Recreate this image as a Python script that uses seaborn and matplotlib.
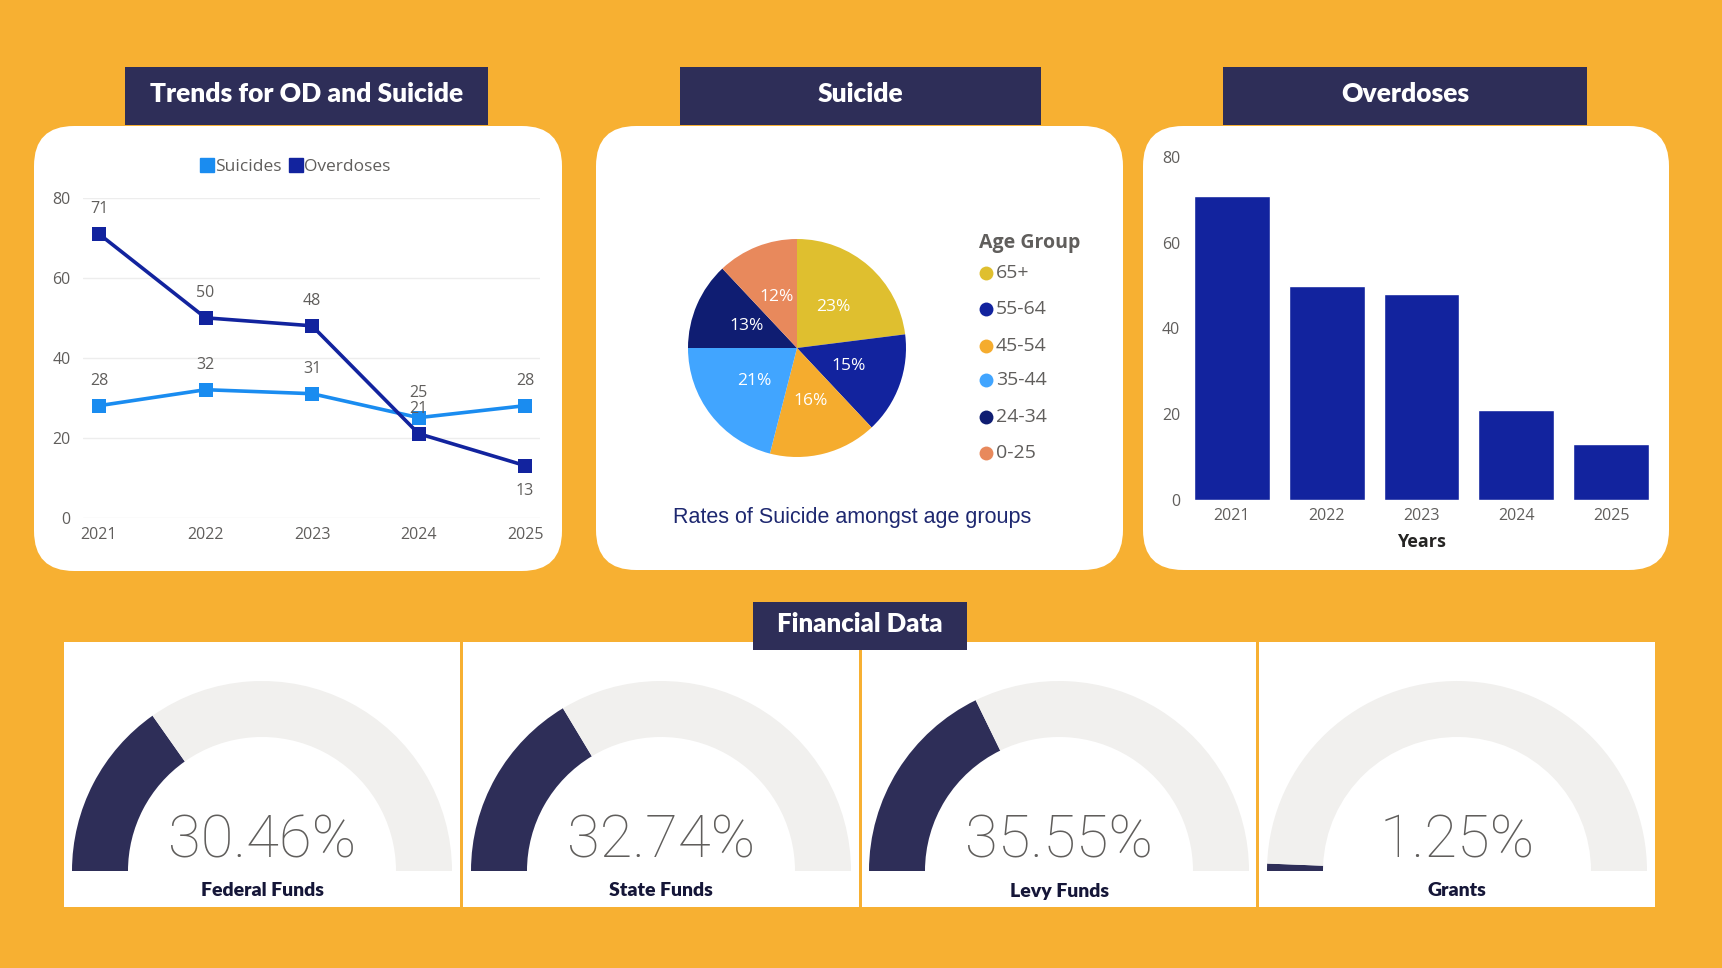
import matplotlib.pyplot as plt
import matplotlib.patches as mpatches
from matplotlib.lines import Line2D
import seaborn as sns
import pandas as pd

# ---- data ----
years = [2021, 2022, 2023, 2024, 2025]
suicides = [28, 32, 31, 25, 28]
overdoses = [71, 50, 48, 21, 13]

age_groups = ['65+', '55-64', '45-54', '35-44', '24-34', '0-25']
age_share = [23, 15, 16, 21, 13, 12]
age_colors = ['#DFBF2F', '#12239E', '#F5AC2E', '#41A5FF', '#0F1D72', '#E8895C']

fund_names = ['Federal Funds', 'State Funds', 'Levy Funds', 'Grants']
fund_pct = [30.46, 32.74, 35.55, 1.25]

# ---- styles ----
ORANGE = '#F7B032'
NAVY_BOX = '#2E2E58'
LIGHT_BLUE = '#1A8CF0'
DARK_BLUE = '#12239E'
GAUGE_BG = '#F1F0EE'
GRAY_TXT = '#605E5C'
TITLE_FONT = ['Lato', 'DejaVu Sans']

W, H = 1722, 968

sns.set_theme(style='white')
plt.rcParams['font.family'] = ['Open Sans', 'DejaVu Sans']

fig = plt.figure(figsize=(W / 100, H / 100), dpi=100, facecolor=ORANGE)


def add_ax(x0, y0, x1, y1):
    # pixel box (top-left origin) -> figure fraction
    return fig.add_axes([x0 / W, 1 - y1 / H, (x1 - x0) / W, (y1 - y0) / H])


bg = add_ax(0, 0, W, H)
bg.set_xlim(0, W)
bg.set_ylim(H, 0)
bg.axis('off')


def panel(x0, y0, x1, y1, r=40):
    bg.add_patch(mpatches.FancyBboxPatch(
        (x0, y0), x1 - x0, y1 - y0,
        boxstyle=f'round,pad=0,rounding_size={r}', fc='white', ec='none', zorder=1))


def title_box(x0, y0, x1, y1, text, size=19):
    bg.add_patch(mpatches.Rectangle((x0, y0), x1 - x0, y1 - y0, fc=NAVY_BOX, ec='none', zorder=3))
    bg.text((x0 + x1) / 2, (y0 + y1) / 2 - 2, text, color='white', fontsize=size,
            fontweight='heavy', family=TITLE_FONT, ha='center', va='center', zorder=4)


# top panels
panel(34, 126, 562, 571)
panel(596, 126, 1123, 570)
panel(1143, 126, 1669, 570)
title_box(125, 67, 488, 125, 'Trends for OD and Suicide')
title_box(680, 67, 1041, 125, 'Suicide')
title_box(1223, 67, 1587, 125, 'Overdoses')

# ---- line chart ----
ax1 = add_ax(83, 198, 540, 517.5)
ax1.set_facecolor('none')
trend = pd.DataFrame({
    'Year': years * 2,
    'Count': suicides + overdoses,
    'Series': ['Suicides'] * len(years) + ['Overdoses'] * len(years),
})
palette = {'Suicides': LIGHT_BLUE, 'Overdoses': DARK_BLUE}
sns.lineplot(data=trend, x='Year', y='Count', hue='Series', palette=palette,
             marker='s', markersize=9.5, markeredgewidth=0, linewidth=2.6,
             legend=False, ax=ax1)
ax1.set_xlim(2020.85, 2025.14)
ax1.set_ylim(0, 80)
ax1.set_xticks(years)
ax1.set_yticks([0, 20, 40, 60, 80])
ax1.yaxis.grid(True, color='#EDEDED', lw=1)
ax1.xaxis.grid(False)
for s in ax1.spines.values():
    s.set_visible(False)
ax1.tick_params(axis='both', length=0, labelsize=11.5, labelcolor=GRAY_TXT)
ax1.tick_params(axis='y', pad=9)
ax1.tick_params(axis='x', pad=7)
ax1.set_xlabel('')
ax1.set_ylabel('')

for x, v in zip(years, suicides):
    ax1.annotate(str(v), (x, v), xytext=(0, 18), textcoords='offset points',
                 ha='center', va='center', fontsize=11.5, color=GRAY_TXT)
for i, (x, v) in enumerate(zip(years, overdoses)):
    dy = -18 if i == len(years) - 1 else 18
    ax1.annotate(str(v), (x, v), xytext=(0, dy), textcoords='offset points',
                 ha='center', va='center', fontsize=11.5, color=GRAY_TXT)

handles = [Line2D([], [], marker='s', ls='', color=palette[k], markersize=10) for k in palette]
ax1.legend(handles, list(palette), loc='center', bbox_to_anchor=(0.466, 1.097), ncol=2,
           frameon=False, handlelength=0.7, handletextpad=0.1, columnspacing=0.5,
           fontsize=12.5, labelcolor=GRAY_TXT)

# ---- pie chart ----
ax2 = add_ax(688, 239, 906, 457)
ax2.pie(age_share, colors=age_colors, startangle=90, counterclock=False,
        autopct=lambda p: f'{p:.0f}%', pctdistance=0.5,
        textprops=dict(color='white', fontsize=12.5),
        wedgeprops=dict(linewidth=0))
ax2.set_xlim(-1, 1)
ax2.set_ylim(-1, 1)

bg.text(979, 243, 'Age Group', fontsize=14, fontweight='bold', color=GRAY_TXT,
        ha='left', va='center', zorder=4)
legend_y = [273, 309, 346, 380, 417, 453]
for y, lab, c in zip(legend_y, age_groups, age_colors):
    bg.scatter([986], [y], s=100, color=c, zorder=4, linewidths=0)
    bg.text(996, y, lab, fontsize=14, color=GRAY_TXT, ha='left', va='center', zorder=4)

bg.text(852, 518, 'Rates of Suicide amongst age groups', fontsize=15.5,
        family=['Liberation Sans', 'DejaVu Sans'], color='#1E2870',
        ha='center', va='center', zorder=4)

# ---- bar chart ----
ax3 = add_ax(1194, 157, 1649, 500)
ax3.set_facecolor('none')
sns.barplot(x=[str(y) for y in years], y=overdoses, color=DARK_BLUE, width=0.8,
            saturation=1, ax=ax3)
ax3.set_xlim(-0.4, 4.4)
ax3.set_ylim(0, 80)
ax3.set_yticks([0, 20, 40, 60, 80])
for s in ax3.spines.values():
    s.set_visible(False)
ax3.tick_params(axis='both', length=0, labelsize=11.5, labelcolor=GRAY_TXT)
ax3.tick_params(axis='y', pad=10)
ax3.tick_params(axis='x', pad=6)
ax3.set_xlabel('Years', fontsize=13, fontweight='bold', color='#252423', labelpad=6)
ax3.set_ylabel('')

# ---- financial gauges ----
gauge_panels = [(64, 460), (463, 859), (862, 1256), (1259, 1655)]
for (x0, x1) in gauge_panels:
    bg.add_patch(mpatches.Rectangle((x0, 642), x1 - x0, 907 - 642, fc='white', ec='none', zorder=1))
title_box(753, 602, 967, 650, 'Financial Data', size=18.5)

R, CY = 190, 871
for (x0, x1), name, pct in zip(gauge_panels, fund_names, fund_pct):
    cx = (x0 + x1) / 2
    axg = add_ax(cx - R, CY - R, cx + R, CY)
    axg.set_facecolor('none')
    axg.pie([pct, 100 - pct, 100], colors=[NAVY_BOX, GAUGE_BG, 'none'],
            startangle=180, counterclock=False,
            wedgeprops=dict(width=56 / R, linewidth=0))
    axg.set_xlim(-1, 1)
    axg.set_ylim(0, 1)
    axg.set_aspect('auto')
    bg.text(cx, 858, f'{pct:.2f}%', fontsize=43, fontweight='light',
            family=['Roboto', 'DejaVu Sans'], color=GRAY_TXT,
            ha='center', va='baseline', zorder=4)
    bg.text(cx, 891, name, fontsize=14, fontweight='heavy', family=TITLE_FONT,
            color='#151638', ha='center', va='center', zorder=4)

fig.savefig('out.png', dpi=100, facecolor=ORANGE)
